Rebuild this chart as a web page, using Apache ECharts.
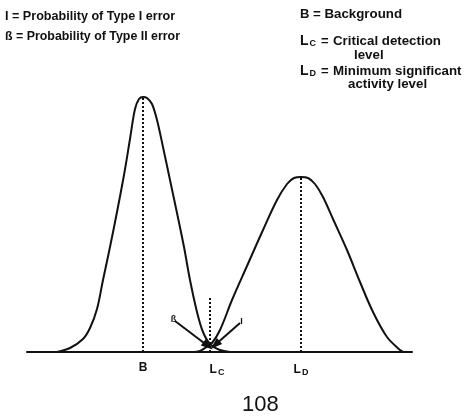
<!DOCTYPE html>
<html>
<head>
<meta charset="utf-8">
<script src="https://cdn.jsdelivr.net/npm/echarts@6/dist/echarts.min.js"></script>
<style>
  html, body { margin: 0; background: #fff; }
  #chart { width: 466px; height: 416px; }
</style>
</head>
<body>
<div id="chart"></div>
<script>
// background distribution (B)
var bgX = [30, 43, 56, 63, 70, 76, 83, 90, 97, 103, 108, 112, 116, 120, 125, 130, 136, 143, 150, 157, 163, 170, 176, 183, 193, 203];
var bgY = [0, 4, 13, 24, 43, 72, 105, 140, 177, 213, 243, 253, 255, 254, 248, 232, 205, 172, 139, 105, 72, 40, 20, 8, 2, 0];
// distribution at the minimum significant activity level (L_D)
var ldX = [168, 173, 178, 185, 193, 205, 220, 236, 250, 260, 267, 274, 281, 288, 296, 306, 320, 333, 346, 360, 373, 376];
var ldY = [0, 1, 4, 9, 22, 52, 86, 122, 152, 168, 174, 175, 174, 168, 155, 133, 102, 70, 40, 15, 2, 0];
// level positions on the x axis
var levelX = [116, 183, 274];
var levelNames = ["B", "{p|}L{s|C}", "L{s|D}"];
var lcMarkTop = 54;
// error arrows (start, end) and their labels
var arrowII = [[148, 31], [181, 6]];
var arrowI = [[213, 29], [188, 7]];
var arrowNames = ["ß", "I"];

function zip(xs, ys) {
  var res = [];
  for (var i = 0; i < xs.length; i++) res.push([xs[i], ys[i]]);
  return res;
}
function maxOf(a) { return Math.max.apply(null, a); }

var ink = "#111";
var font = "'Liberation Sans', Arial, sans-serif";
var dotted = { color: ink, width: 2, type: [2, 2] };

var myChart = echarts.init(document.getElementById("chart"));

var option = {
  backgroundColor: "#fff",
  animation: false,
  grid: { left: 27, right: 54, top: 97, bottom: 64 },
  xAxis: {
    type: "value",
    min: 0,
    max: 385,
    axisLine: { lineStyle: { color: ink, width: 2 } },
    axisTick: { show: false },
    splitLine: { show: false },
    axisLabel: {
      customValues: levelX,
      margin: 10,
      color: ink,
      fontFamily: font,
      fontWeight: "bold",
      fontSize: 12,
      formatter: function (v) {
        return levelNames[levelX.indexOf(v)];
      },
      rich: {
        p: { width: 14 },
        s: { fontFamily: font, fontWeight: "bold", fontSize: 9, color: ink, padding: [6, 0, 0, 1] }
      }
    }
  },
  yAxis: { type: "value", min: 0, max: 255, show: false },
  graphic: [
    { type: "text", left: 5, top: 10, style: { text: "I = Probability of Type I error", font: "bold 12.6px " + font, fill: ink } },
    { type: "text", left: 5, top: 31, style: { text: "ß = Probability of Type II error", font: "bold 12.4px " + font, fill: ink } },

    { type: "text", left: 300, top: 8, style: { text: "B", font: "bold 13px " + font, fill: ink } },
    { type: "text", left: 313, top: 8, style: { text: "= Background", font: "bold 13.3px " + font, fill: ink } },

    { type: "text", left: 300, top: 34, style: {
      text: "{l|L}{s|C}", rich: {
        l: { font: "bold 14px " + font, fill: ink },
        s: { font: "bold 9px " + font, fill: ink, padding: [6, 0, 0, 1] }
      } } },
    { type: "text", left: 321, top: 35, style: { text: "=", font: "bold 13px " + font, fill: ink } },
    { type: "text", left: 333, top: 35, style: { text: "Critical detection", font: "bold 13.3px " + font, fill: ink } },
    { type: "text", left: 354, top: 49, style: { text: "level", font: "bold 13.3px " + font, fill: ink } },

    { type: "text", left: 300, top: 64, style: {
      text: "{l|L}{s|D}", rich: {
        l: { font: "bold 14px " + font, fill: ink },
        s: { font: "bold 9px " + font, fill: ink, padding: [6, 0, 0, 1] }
      } } },
    { type: "text", left: 321, top: 65, style: { text: "=", font: "bold 13px " + font, fill: ink } },
    { type: "text", left: 333, top: 65, style: { text: "Minimum significant", font: "bold 13.3px " + font, fill: ink } },
    { type: "text", left: 348, top: 78, style: { text: "activity level", font: "bold 13.3px " + font, fill: ink } },

    { type: "text", left: 242, top: 394, style: { text: "108", font: "22px " + font, fill: ink } }
  ],
  series: [
    {
      name: "B",
      type: "line",
      data: zip(bgX, bgY),
      smooth: 0.35,
      showSymbol: false,
      lineStyle: { color: ink, width: 2 },
      markLine: {
        silent: true,
        symbol: "none",
        label: { show: false },
        lineStyle: dotted,
        data: [[{ coord: [levelX[0], 0] }, { coord: [levelX[0], maxOf(bgY)] }]]
      }
    },
    {
      name: "LD",
      type: "line",
      data: zip(ldX, ldY),
      smooth: 0.35,
      showSymbol: false,
      lineStyle: { color: ink, width: 2 },
      markLine: {
        silent: true,
        symbol: "none",
        label: { show: false },
        lineStyle: dotted,
        data: [
          [{ coord: [levelX[2], 0] }, { coord: [levelX[2], maxOf(ldY)] }],
          [{ coord: [levelX[1], 0] }, { coord: [levelX[1], lcMarkTop] }]
        ]
      }
    },
    {
      name: "arrows",
      type: "line",
      data: [],
      markLine: {
        silent: true,
        symbol: ["none", "triangle"],
        symbolSize: [8, 12],
        lineStyle: { color: ink, width: 2, type: "solid" },
        label: {
          show: true,
          position: "start",
          distance: 2,
          color: ink,
          fontFamily: font,
          fontWeight: "bold",
          fontSize: 9
        },
        data: [
          [{ coord: arrowII[0], name: arrowNames[0], label: { formatter: arrowNames[0] } }, { coord: arrowII[1] }],
          [{ coord: arrowI[0], name: arrowNames[1], label: { formatter: arrowNames[1] } }, { coord: arrowI[1] }]
        ]
      }
    }
  ]
};

myChart.setOption(option);
window.addEventListener("resize", function () {
  myChart.resize();
});
</script>
</body>
</html>
